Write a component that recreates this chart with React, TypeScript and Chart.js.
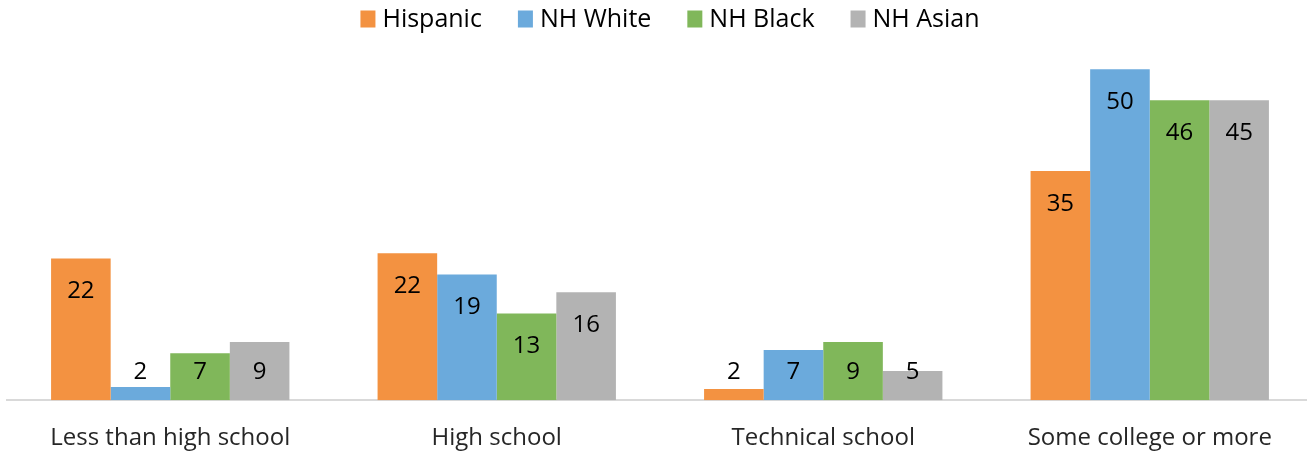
import React, { useEffect, useRef } from "react";
import { Chart, registerables } from "chart.js";

Chart.register(...registerables);

const categories = ["Less than high school", "High school", "Technical school", "Some college or more"];
const seriesNames = ["Hispanic", "NH White", "NH Black", "NH Asian"];

// bar heights
const hispanic = [21.4, 22.2, 1.7, 34.6];
const nhWhite = [2.0, 19.0, 7.6, 50.0];
const nhBlack = [7.1, 13.1, 8.8, 45.3];
const nhAsian = [8.8, 16.3, 4.4, 45.3];

// printed data labels
const hispanicLabels = ["22", "22", "2", "35"];
const nhWhiteLabels = ["2", "19", "7", "50"];
const nhBlackLabels = ["7", "13", "9", "46"];
const nhAsianLabels = ["9", "16", "5", "45"];

const seriesColors = ["#F39241", "#6BAADC", "#80B75A", "#B3B3B3"];

const FONT = "'Open Sans', sans-serif";

const seriesValues = [hispanic, nhWhite, nhBlack, nhAsian];
const seriesLabels = [hispanicLabels, nhWhiteLabels, nhBlackLabels, nhAsianLabels];

const barLabelPlugin = {
  id: "barLabels",
  afterDatasetsDraw(chart: any) {
    const ctx = chart.ctx;
    ctx.save();
    ctx.font = `24px ${FONT}`;
    ctx.fillStyle = "#000000";
    ctx.textAlign = "center";
    ctx.textBaseline = "middle";
    chart.data.datasets.forEach((_ds: any, i: number) => {
      const meta = chart.getDatasetMeta(i);
      meta.data.forEach((bar: any, j: number) => {
        const y = Math.min(bar.y + 33, bar.base - 28);
        ctx.fillText(seriesLabels[i][j], bar.x, y);
      });
    });
    ctx.restore();
  },
};

const legendPlugin = {
  id: "customLegend",
  afterDraw(chart: any) {
    const ctx = chart.ctx;
    ctx.save();
    ctx.font = `25px ${FONT}`;
    ctx.textBaseline = "middle";
    ctx.textAlign = "left";
    const boxW = 15;
    const boxH = 17;
    const gap = 7;
    const itemGap = 36;
    const widths = seriesNames.map((n) => ctx.measureText(n).width);
    const total = widths.reduce((a, b) => a + b + boxW + gap, 0) + itemGap * (seriesNames.length - 1);
    let x = 670 - total / 2;
    const cy = 19;
    seriesNames.forEach((name, i) => {
      ctx.fillStyle = seriesColors[i];
      ctx.fillRect(x, cy - boxH / 2, boxW, boxH);
      ctx.fillStyle = "#000000";
      ctx.fillText(name, x + boxW + gap, cy + 1);
      x += boxW + gap + widths[i] + itemGap;
    });
    ctx.restore();
  },
};

export default function App() {
  const canvasRef = useRef<HTMLCanvasElement | null>(null);

  useEffect(() => {
    if (!canvasRef.current) return;
    const chart = new Chart(canvasRef.current, {
      type: "bar",
      data: {
        labels: categories,
        datasets: seriesNames.map((name, i) => ({
          label: name,
          data: seriesValues[i],
          backgroundColor: seriesColors[i],
          borderWidth: 0,
          barPercentage: 1,
          categoryPercentage: 0.73,
        })),
      },
      options: {
        animation: false,
        responsive: true,
        maintainAspectRatio: false,
        layout: { padding: { top: 42, left: 7, right: 0, bottom: -24 } },
        plugins: {
          legend: { display: false },
          tooltip: { enabled: false },
        },
        scales: {
          x: {
            grid: { display: false, drawTicks: false },
            border: { display: true, color: "#D9D9D9", width: 2 },
            ticks: {
              color: "#262626",
              font: { family: FONT, size: 24 },
              padding: 24,
              maxRotation: 0,
            },
          },
          y: {
            display: false,
            min: 0,
            max: 54.1,
          },
        },
      },
      plugins: [barLabelPlugin, legendPlugin],
    });
    return () => chart.destroy();
  }, []);

  return (
    <div style={{ position: "absolute", left: 0, top: 0, width: 1307, height: 453, overflow: "hidden" }}>
      <div style={{ position: "relative", width: 1313, height: 453 }}>
        <canvas ref={canvasRef} />
      </div>
    </div>
  );
}
